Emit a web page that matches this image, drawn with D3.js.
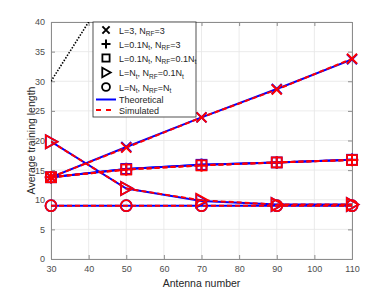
<!DOCTYPE html>
<html>
<head>
<meta charset="utf-8">
<script src="https://cdn.jsdelivr.net/npm/d3@7"></script>
<style>
  body { margin: 0; background: #fff; }
  svg { font-family: "Liberation Sans", Arial, sans-serif; }
  .tick text { fill: #4d4d4d; font-size: 9px; }
</style>
</head>
<body>
<svg width="389" height="292"></svg>
<script>
// Data
const antennas = [30, 50, 70, 90, 110]
const xTicks = [30, 40, 50, 60, 70, 80, 90, 100, 110]
const yTicks = [0, 5, 10, 15, 20, 25, 30, 35, 40]

// theoretical values per scheme
const theoL3 = [13.8, 18.9, 23.9, 28.7, 33.7]
const theoL01 = [13.8, 15.2, 15.9, 16.3, 16.75]
const theoL01R01 = [13.8, 15.2, 15.9, 16.3, 16.75]
const theoLNR01 = [19.8, 11.9, 9.8, 9.2, 9.2]
const theoLN = [9.0, 9.0, 9.0, 9.0, 9.0]

// simulated values per scheme
const simL3 = [13.8, 18.8, 23.9, 28.6, 33.8]
const simL01 = [13.8, 15.1, 15.8, 16.3, 16.7]
const simL01R01 = [13.8, 15.1, 15.8, 16.3, 16.7]
const simLNR01 = [19.8, 11.9, 9.9, 9.2, 9.2]
const simLN = [9.0, 9.0, 9.0, 9.0, 9.0]

// black dotted reference (leaves the plot quickly)
const refLine = [30, 50, 70, 90, 110]

const legendLabels = [
  { marker: 'x', parts: [['L=3, N'], ['RF', 'sub'], ['=3']] },
  { marker: 'plus', parts: [['L=0.1N'], ['t', 'sub'], [', N'], ['RF', 'sub'], ['=3']] },
  { marker: 'square', parts: [['L=0.1N'], ['t', 'sub'], [', N'], ['RF', 'sub'], ['=0.1N'], ['t', 'sub']] },
  { marker: 'triangle', parts: [['L=N'], ['t', 'sub'], [', N'], ['RF', 'sub'], ['=0.1N'], ['t', 'sub']] },
  { marker: 'circle', parts: [['L=N'], ['t', 'sub'], [', N'], ['RF', 'sub'], ['=N'], ['t', 'sub']] }
]

const series = [
  { marker: 'x', theo: theoL3, sim: simL3 },
  { marker: 'plus', theo: theoL01, sim: simL01 },
  { marker: 'square', theo: theoL01R01, sim: simL01R01 },
  { marker: 'triangle', theo: theoLNR01, sim: simLNR01 },
  { marker: 'circle', theo: theoLN, sim: simLN }
]

let margin = { left: 51, right: 37, top: 22, bottom: 33 }
let W = 389, H = 292
let w = W - margin.left - margin.right
let h = H - margin.top - margin.bottom

let svg = d3.select('svg')

let xScale = d3.scaleLinear().domain([30, 110]).range([0, w])
let yScale = d3.scaleLinear().domain([0, 40]).range([h, 0])

let g = svg.append('g').attr('transform', `translate(${margin.left},${margin.top})`)

// Grid
g.append('g')
  .selectAll('line.vg')
  .data(xTicks)
  .enter()
  .append('line')
  .attr('x1', d => xScale(d)).attr('x2', d => xScale(d))
  .attr('y1', 0).attr('y2', h)
  .attr('stroke', '#e6e6e6').attr('stroke-width', 0.8)
g.append('g')
  .selectAll('line.hg')
  .data(yTicks)
  .enter()
  .append('line')
  .attr('x1', 0).attr('x2', w)
  .attr('y1', d => yScale(d)).attr('y2', d => yScale(d))
  .attr('stroke', '#e6e6e6').attr('stroke-width', 0.8)

// Axes
let xAxis = d3.axisBottom(xScale).tickValues(xTicks).tickSize(-4).tickPadding(7)
let yAxis = d3.axisLeft(yScale).tickValues(yTicks).tickSize(-4).tickPadding(6)

let xg = g.append('g').attr('transform', `translate(0,${h})`).call(xAxis)
let yg = g.append('g').call(yAxis)
let xTop = g.append('g').call(d3.axisTop(xScale).tickValues(xTicks).tickSize(-4).tickFormat(''))
let yRight = g.append('g').attr('transform', `translate(${w},0)`).call(d3.axisRight(yScale).tickValues(yTicks).tickSize(-4).tickFormat(''))
;[xg, yg, xTop, yRight].forEach(a => {
  a.selectAll('path').attr('stroke', '#8c8c8c').attr('stroke-width', 1)
  a.selectAll('line').attr('stroke', '#8c8c8c')
})

// Clip
svg.append('defs').append('clipPath').attr('id', 'clip')
  .append('rect').attr('width', w).attr('height', h)

let plot = g.append('g').attr('clip-path', 'url(#clip)')

let line = d3.line()
  .x((d, i) => xScale(antennas[i]))
  .y(d => yScale(d))

plot.append('path')
  .attr('d', line(refLine))
  .attr('fill', 'none')
  .attr('stroke', '#000')
  .attr('stroke-width', 1.6)
  .attr('stroke-dasharray', '1.5,1.5')

// marker drawing
function drawMarker(sel, type, x, y, color, s) {
  if (type === 'x') {
    sel.append('path')
      .attr('d', `M${x - s},${y - s}L${x + s},${y + s}M${x - s},${y + s}L${x + s},${y - s}`)
      .attr('stroke', color).attr('stroke-width', 2).attr('fill', 'none')
  } else if (type === 'plus') {
    let p = s * 1.25
    sel.append('path')
      .attr('d', `M${x - p},${y}L${x + p},${y}M${x},${y - p}L${x},${y + p}`)
      .attr('stroke', color).attr('stroke-width', 2).attr('fill', 'none')
  } else if (type === 'square') {
    sel.append('rect')
      .attr('x', x - s).attr('y', y - s).attr('width', 2 * s).attr('height', 2 * s)
      .attr('stroke', color).attr('stroke-width', 1.8).attr('fill', 'none')
  } else if (type === 'triangle') {
    let t = s * 1.3
    sel.append('path')
      .attr('d', `M${x - t * 0.8},${y - t}L${x + t},${y}L${x - t * 0.8},${y + t}Z`)
      .attr('stroke', color).attr('stroke-width', 1.8).attr('fill', 'none')
  } else if (type === 'circle') {
    sel.append('circle')
      .attr('cx', x).attr('cy', y).attr('r', s * 1.1)
      .attr('stroke', color).attr('stroke-width', 1.8).attr('fill', 'none')
  }
}

let markerLayer = g.append('g')

series.forEach(s => {
  plot.append('path')
    .attr('d', line(s.theo))
    .attr('fill', 'none').attr('stroke', '#0000ff').attr('stroke-width', 2)
  s.theo.forEach((v, i) => drawMarker(markerLayer, s.marker, xScale(antennas[i]), yScale(v), '#0000ff', 5))
})
series.forEach(s => {
  plot.append('path')
    .attr('d', line(s.sim))
    .attr('fill', 'none').attr('stroke', '#ff0000').attr('stroke-width', 2)
    .attr('stroke-dasharray', '5,3')
  s.sim.forEach((v, i) => drawMarker(markerLayer, s.marker, xScale(antennas[i]), yScale(v), '#ff0000', 5))
})

// Axis labels
svg.append('text')
  .text('Antenna number')
  .attr('x', margin.left + w / 2)
  .attr('y', 287)
  .attr('text-anchor', 'middle')
  .attr('font-size', 10.5)
  .attr('fill', '#262626')

svg.append('text')
  .text('Average training length')
  .attr('transform', `translate(35,${margin.top + h / 2}) rotate(-90)`)
  .attr('text-anchor', 'middle')
  .attr('font-size', 10.5)
  .attr('fill', '#262626')

// Legend
let lx = 93, ly = 22
let legend = svg.append('g').attr('id', 'legend')
legend.append('rect')
  .attr('x', lx).attr('y', ly).attr('width', 103).attr('height', 95)
  .attr('fill', '#fff').attr('stroke', '#262626').attr('stroke-width', 0.8)

let rowY = [30, 44, 58, 72.5, 87]
legendLabels.forEach((d, i) => {
  drawMarker(legend, d.marker, 106, rowY[i], '#000', 3.6)
  let t = legend.append('text')
    .attr('x', 119).attr('y', rowY[i] + 3.5)
    .attr('font-size', 9).attr('fill', '#262626')
  d.parts.forEach(p => {
    let ts = t.append('tspan').text(p[0])
    if (p[1] === 'sub') ts.attr('font-size', 6.5).attr('dy', 2.5)
    else ts.attr('dy', t.selectAll('tspan').size() > 1 ? -2.5 : 0)
  })
})

legend.append('line')
  .attr('x1', 96).attr('x2', 116).attr('y1', 99.5).attr('y2', 99.5)
  .attr('stroke', '#0000ff').attr('stroke-width', 2)
legend.append('text').text('Theoretical')
  .attr('x', 119).attr('y', 103).attr('font-size', 9).attr('fill', '#262626')
legend.append('line')
  .attr('x1', 96).attr('x2', 116).attr('y1', 110).attr('y2', 110)
  .attr('stroke', '#ff0000').attr('stroke-width', 2).attr('stroke-dasharray', '5,5')
legend.append('text').text('Simulated')
  .attr('x', 119).attr('y', 113.5).attr('font-size', 9).attr('fill', '#262626')
</script>
</body>
</html>
